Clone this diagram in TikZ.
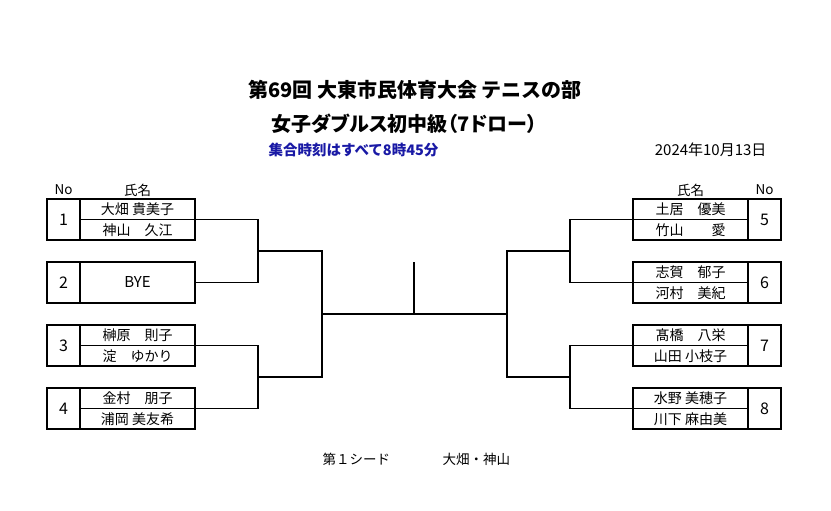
\documentclass[tikz,border=0pt]{standalone}
\usepackage{fontspec}
\setmainfont{Noto Sans CJK JP}
\newfontfamily\proptitle{Noto Sans CJK JP}[RawFeature=+palt]
\usetikzlibrary{positioning}
\definecolor{noteblue}{RGB}{25,25,165}

\begin{document}
\begin{tikzpicture}[x=1pt, y=-1pt,
    cell/.style={draw, line width=1.3pt, inner sep=0pt, outer sep=0pt, font=\fontsize{14}{14}\selectfont},
    numcell/.style={cell, minimum width=33pt, minimum height=41pt, font=\fontsize{16}{16}\selectfont},
    namecell/.style={cell, minimum width=115pt, minimum height=20.5pt},
    byecell/.style={cell, minimum width=115pt, minimum height=41pt, font=\fontsize{15}{15}\selectfont},
    link/.style={line width=1.3pt},
    head/.style={font=\fontsize{13.5}{13.5}\selectfont},
    title/.style={font=\fontsize{20}{20}\selectfont\bfseries}]
    \useasboundingbox (0,0) rectangle (831,511);
    % titles
    \node[title] (t1) at (415,90) {第69回 大東市民体育大会 テニスの部};
    \node[title, anchor=west] (t2) at (268,124) {\proptitle\bfseries 女子ダブルス初中級（7ドロー）};
    \node[anchor=west, text=noteblue, font=\fontsize{14.5}{14.5}\selectfont\bfseries] (t3) at (265,150) {集合時刻はすべて8時45分};
    \node[anchor=east, font=\fontsize{15}{15}\selectfont] (date) at (770,150) {2024年10月13日};
    % headers
    \node[head] (hno1) at (63.5,190) {No};
    \node[head] (hname1) at (137.5,190) {氏名};
    \node[head] (hname2) at (690.5,190) {氏名};
    \node[head] (hno2) at (764.5,190) {No};
    % left side
    \node[numcell] (no1) at (63.5,219.5) {1};
    \node[namecell, anchor=north west] (p1a) at (no1.north east) {大畑 貴美子};
    \node[namecell, below=0pt of p1a] (p1b) {神山　久江};
    \node[numcell] (no2) at (63.5,282.5) {2};
    \node[byecell, right=0pt of no2] (p2) {BYE};
    \node[numcell] (no3) at (63.5,345.5) {3};
    \node[namecell, anchor=north west] (p3a) at (no3.north east) {榊原　則子};
    \node[namecell, below=0pt of p3a] (p3b) {淀　ゆかり};
    \node[numcell] (no4) at (63.5,408.5) {4};
    \node[namecell, anchor=north west] (p4a) at (no4.north east) {金村　朋子};
    \node[namecell, below=0pt of p4a] (p4b) {浦岡 美友希};
    % right side
    \node[numcell] (no5) at (764.5,219.5) {5};
    \node[namecell, anchor=north east] (p5a) at (no5.north west) {土居　優美};
    \node[namecell, below=0pt of p5a] (p5b) {竹山　　愛};
    \node[numcell] (no6) at (764.5,282.5) {6};
    \node[namecell, anchor=north east] (p6a) at (no6.north west) {志賀　郁子};
    \node[namecell, below=0pt of p6a] (p6b) {河村　美紀};
    \node[numcell] (no7) at (764.5,345.5) {7};
    \node[namecell, anchor=north east] (p7a) at (no7.north west) {髙橋　八栄};
    \node[namecell, below=0pt of p7a] (p7b) {山田 小枝子};
    \node[numcell] (no8) at (764.5,408.5) {8};
    \node[namecell, anchor=north east] (p8a) at (no8.north west) {水野 美穂子};
    \node[namecell, below=0pt of p8a] (p8b) {川下 麻由美};
    % bracket joints
    \coordinate (b12) at (258,251);
    \coordinate (b34) at (258,377);
    \coordinate (b56) at (570,251);
    \coordinate (b78) at (570,377);
    \coordinate (c14) at (322,314);
    \coordinate (c58) at (507,314);
    \coordinate (win) at (414,262);
    \draw[link] (p1a.south east) -| (b12) |- (p2.east);
    \draw[link] (p3a.south east) -| (b34) |- (p4a.south east);
    \draw[link] (p5a.south west) -| (b56) |- (p6a.south west);
    \draw[link] (p7a.south west) -| (b78) |- (p8a.south west);
    \draw[link] (b12) -| (c14) |- (b34);
    \draw[link] (b56) -| (c58) |- (b78);
    \draw[link] (c14) -- (c58);
    \draw[link] (win) -- (win |- c14);
    % seed
    \node[head, anchor=west] (seed) at (319,459) {第１シード};
    \node[head, anchor=west] (seedname) at (439,459) {大畑・神山};
\end{tikzpicture}
\end{document}
